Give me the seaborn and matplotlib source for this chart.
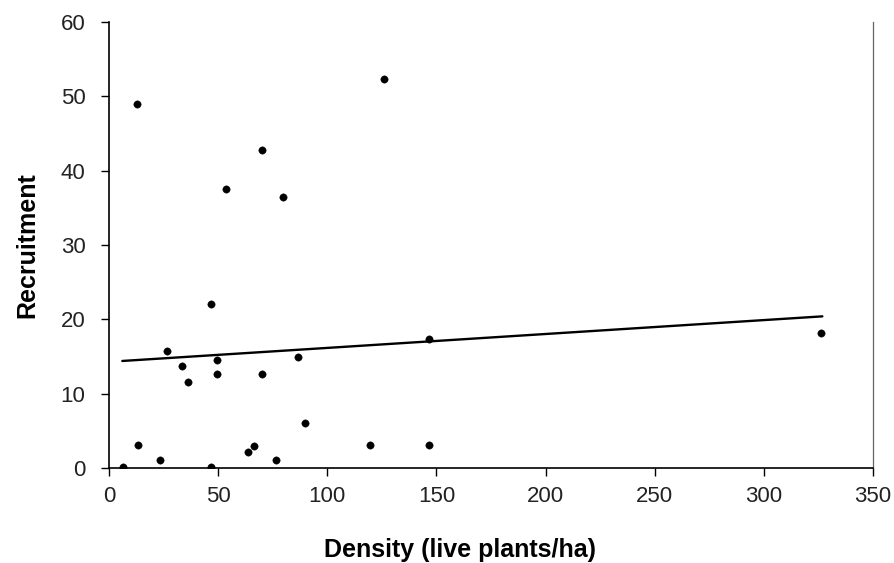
import matplotlib
matplotlib.use("Agg")
import matplotlib.pyplot as plt
import seaborn as sns
import pandas as pd

# Data
density = [13.0, 69.9, 53.4, 79.5, 126.1, 46.7, 26.7, 33.6, 49.6, 49.6, 36.3, 70.2,
           86.7, 89.9, 13.1, 66.5, 63.8, 23.4, 76.6, 6.5, 46.7, 146.5, 119.6, 146.7, 326.1]
recruitment = [48.9, 42.8, 37.5, 36.4, 52.3, 22.1, 15.7, 13.7, 14.5, 12.6, 11.6, 12.7,
               14.9, 6.0, 3.1, 2.9, 2.1, 1.1, 1.1, 0.1, 0.1, 17.3, 3.1, 3.1, 18.1]
trend_x = [6.1, 326.8]
trend_y = [14.4, 20.4]
x_ticks = [0, 50, 100, 150, 200, 250, 300, 350]
y_ticks = [0, 10, 20, 30, 40, 50, 60]

df = pd.DataFrame({"Density": density, "Recruitment": recruitment})
trend = pd.DataFrame({"x": trend_x, "y": trend_y})

sns.set_theme(style="white")
plt.rcParams["font.family"] = ["Liberation Sans", "DejaVu Sans"]

fig = plt.figure(figsize=(8.95, 5.63), dpi=100)
ax = fig.add_axes([0.1218, 0.1687, 0.9754 - 0.1218, 0.961 - 0.1687])

sns.lineplot(data=trend, x="x", y="y", color="black", linewidth=1.7, ax=ax)
sns.scatterplot(data=df, x="Density", y="Recruitment", color="black", s=28,
                edgecolor="black", linewidth=0.3, ax=ax, zorder=3)

ax.set_xlim(0, 350)
ax.set_ylim(0, 60)
ax.set_xticks(x_ticks)
ax.set_yticks(y_ticks)
ax.set_xticklabels([str(v) for v in x_ticks])
ax.set_yticklabels([str(v) for v in y_ticks])

for side in ["left", "bottom"]:
    ax.spines[side].set_color("black")
    ax.spines[side].set_linewidth(1.2)
ax.spines["top"].set_visible(False)
ax.spines["right"].set_color("#666666")
ax.spines["right"].set_linewidth(0.9)

ax.tick_params(axis="both", which="major", direction="out", length=6, width=1.0,
               color="black", labelsize=16, labelcolor="#222222")
ax.tick_params(axis="y", pad=11, left=True)
ax.tick_params(axis="x", pad=7, bottom=True)

ax.set_xlabel("Density (live plants/ha)", fontsize=18, fontweight="bold",
              labelpad=22, x=0.46, color="black")
ax.set_ylabel("Recruitment", fontsize=18, fontweight="bold", labelpad=15,
              color="black")
ax.grid(False)
ax.set_facecolor("white")
fig.patch.set_facecolor("white")

fig.savefig("out.png", dpi=100)
